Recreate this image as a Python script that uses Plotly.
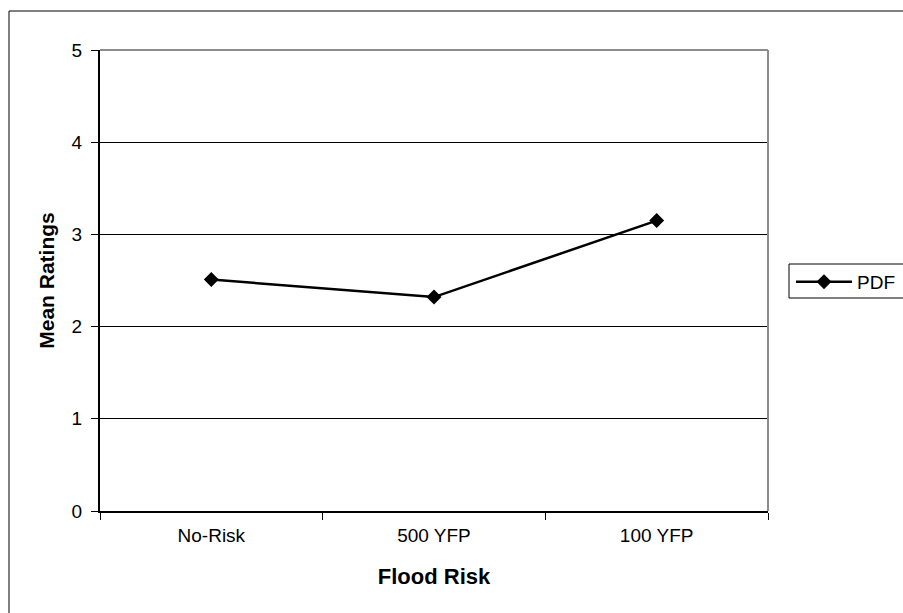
import plotly.graph_objects as go

# Mean ratings by flood risk category
categories = ["No-Risk", "500 YFP", "100 YFP"]
pdf_means = [2.51, 2.32, 3.15]
y_ticks = [0, 1, 2, 3, 4, 5]

W, H = 903, 613
FONT = "Liberation Sans, Arial, sans-serif"

# plot-area corners in pixels
L, R, T, B = 100, 768, 50, 511


def px(x):
    return x / W


def py(y):
    return 1 - y / H


fig = go.Figure()
fig.add_trace(go.Scatter(
    x=categories,
    y=pdf_means,
    mode="lines+markers",
    name="PDF",
    line=dict(color="black", width=2.5),
    marker=dict(symbol="diamond", size=11.5, color="black"),
))

fig.update_layout(
    width=W,
    height=H,
    margin=dict(l=0, r=0, t=0, b=0),
    paper_bgcolor="white",
    plot_bgcolor="white",
    font=dict(family=FONT, size=19, color="black"),
    showlegend=True,
    legend=dict(
        x=px(791), y=py(263), xanchor="left", yanchor="top",
        borderwidth=0, bgcolor="rgba(0,0,0,0)",
        font=dict(family=FONT, size=19, color="black"),
        itemwidth=56,
        tracegroupgap=0,
    ),
    xaxis=dict(
        domain=[px(L), px(R)],
        range=[-0.5, 2.5],
        type="category",
        showline=True, linecolor="black", linewidth=2,
        ticks="outside", ticklen=7, tickcolor="black", tickwidth=1,
        tickson="boundaries",
        ticklabelstandoff=6,
        showgrid=False,
        automargin=False,
        tickfont=dict(size=19),
        title=dict(text="<b>Flood Risk</b>", font=dict(size=22), standoff=24),
    ),
    yaxis=dict(
        domain=[py(B), py(T)],
        range=[0, 5],
        tickvals=y_ticks,
        showline=True, linecolor="black", linewidth=2,
        ticks="outside", ticklen=7, tickcolor="black", tickwidth=1,
        ticklabelstandoff=5,
        showgrid=True, gridcolor="black", gridwidth=1,
        zeroline=False,
        automargin=False,
        tickfont=dict(size=19),
        title=dict(text="<b>Mean Ratings</b>", font=dict(size=21), standoff=11),
    ),
    shapes=[
        # outer chart frame
        dict(type="rect", xref="paper", yref="paper",
             x0=px(9), x1=1.02, y0=-0.02, y1=py(11),
             line=dict(color="black", width=1), layer="below"),
        # legend frame running off the right edge
        dict(type="rect", xref="paper", yref="paper",
             x0=px(789), x1=1.02, y0=py(298), y1=py(264),
             line=dict(color="black", width=1), layer="below"),
        # gray plot-area border on top and right
        dict(type="line", xref="paper", yref="paper",
             x0=px(L), x1=px(R), y0=py(T), y1=py(T),
             line=dict(color="#8c8c8c", width=2)),
        dict(type="line", xref="paper", yref="paper",
             x0=px(R), x1=px(R), y0=py(T), y1=py(B),
             line=dict(color="#8c8c8c", width=2)),
    ],
)

fig.write_html("out.html")
